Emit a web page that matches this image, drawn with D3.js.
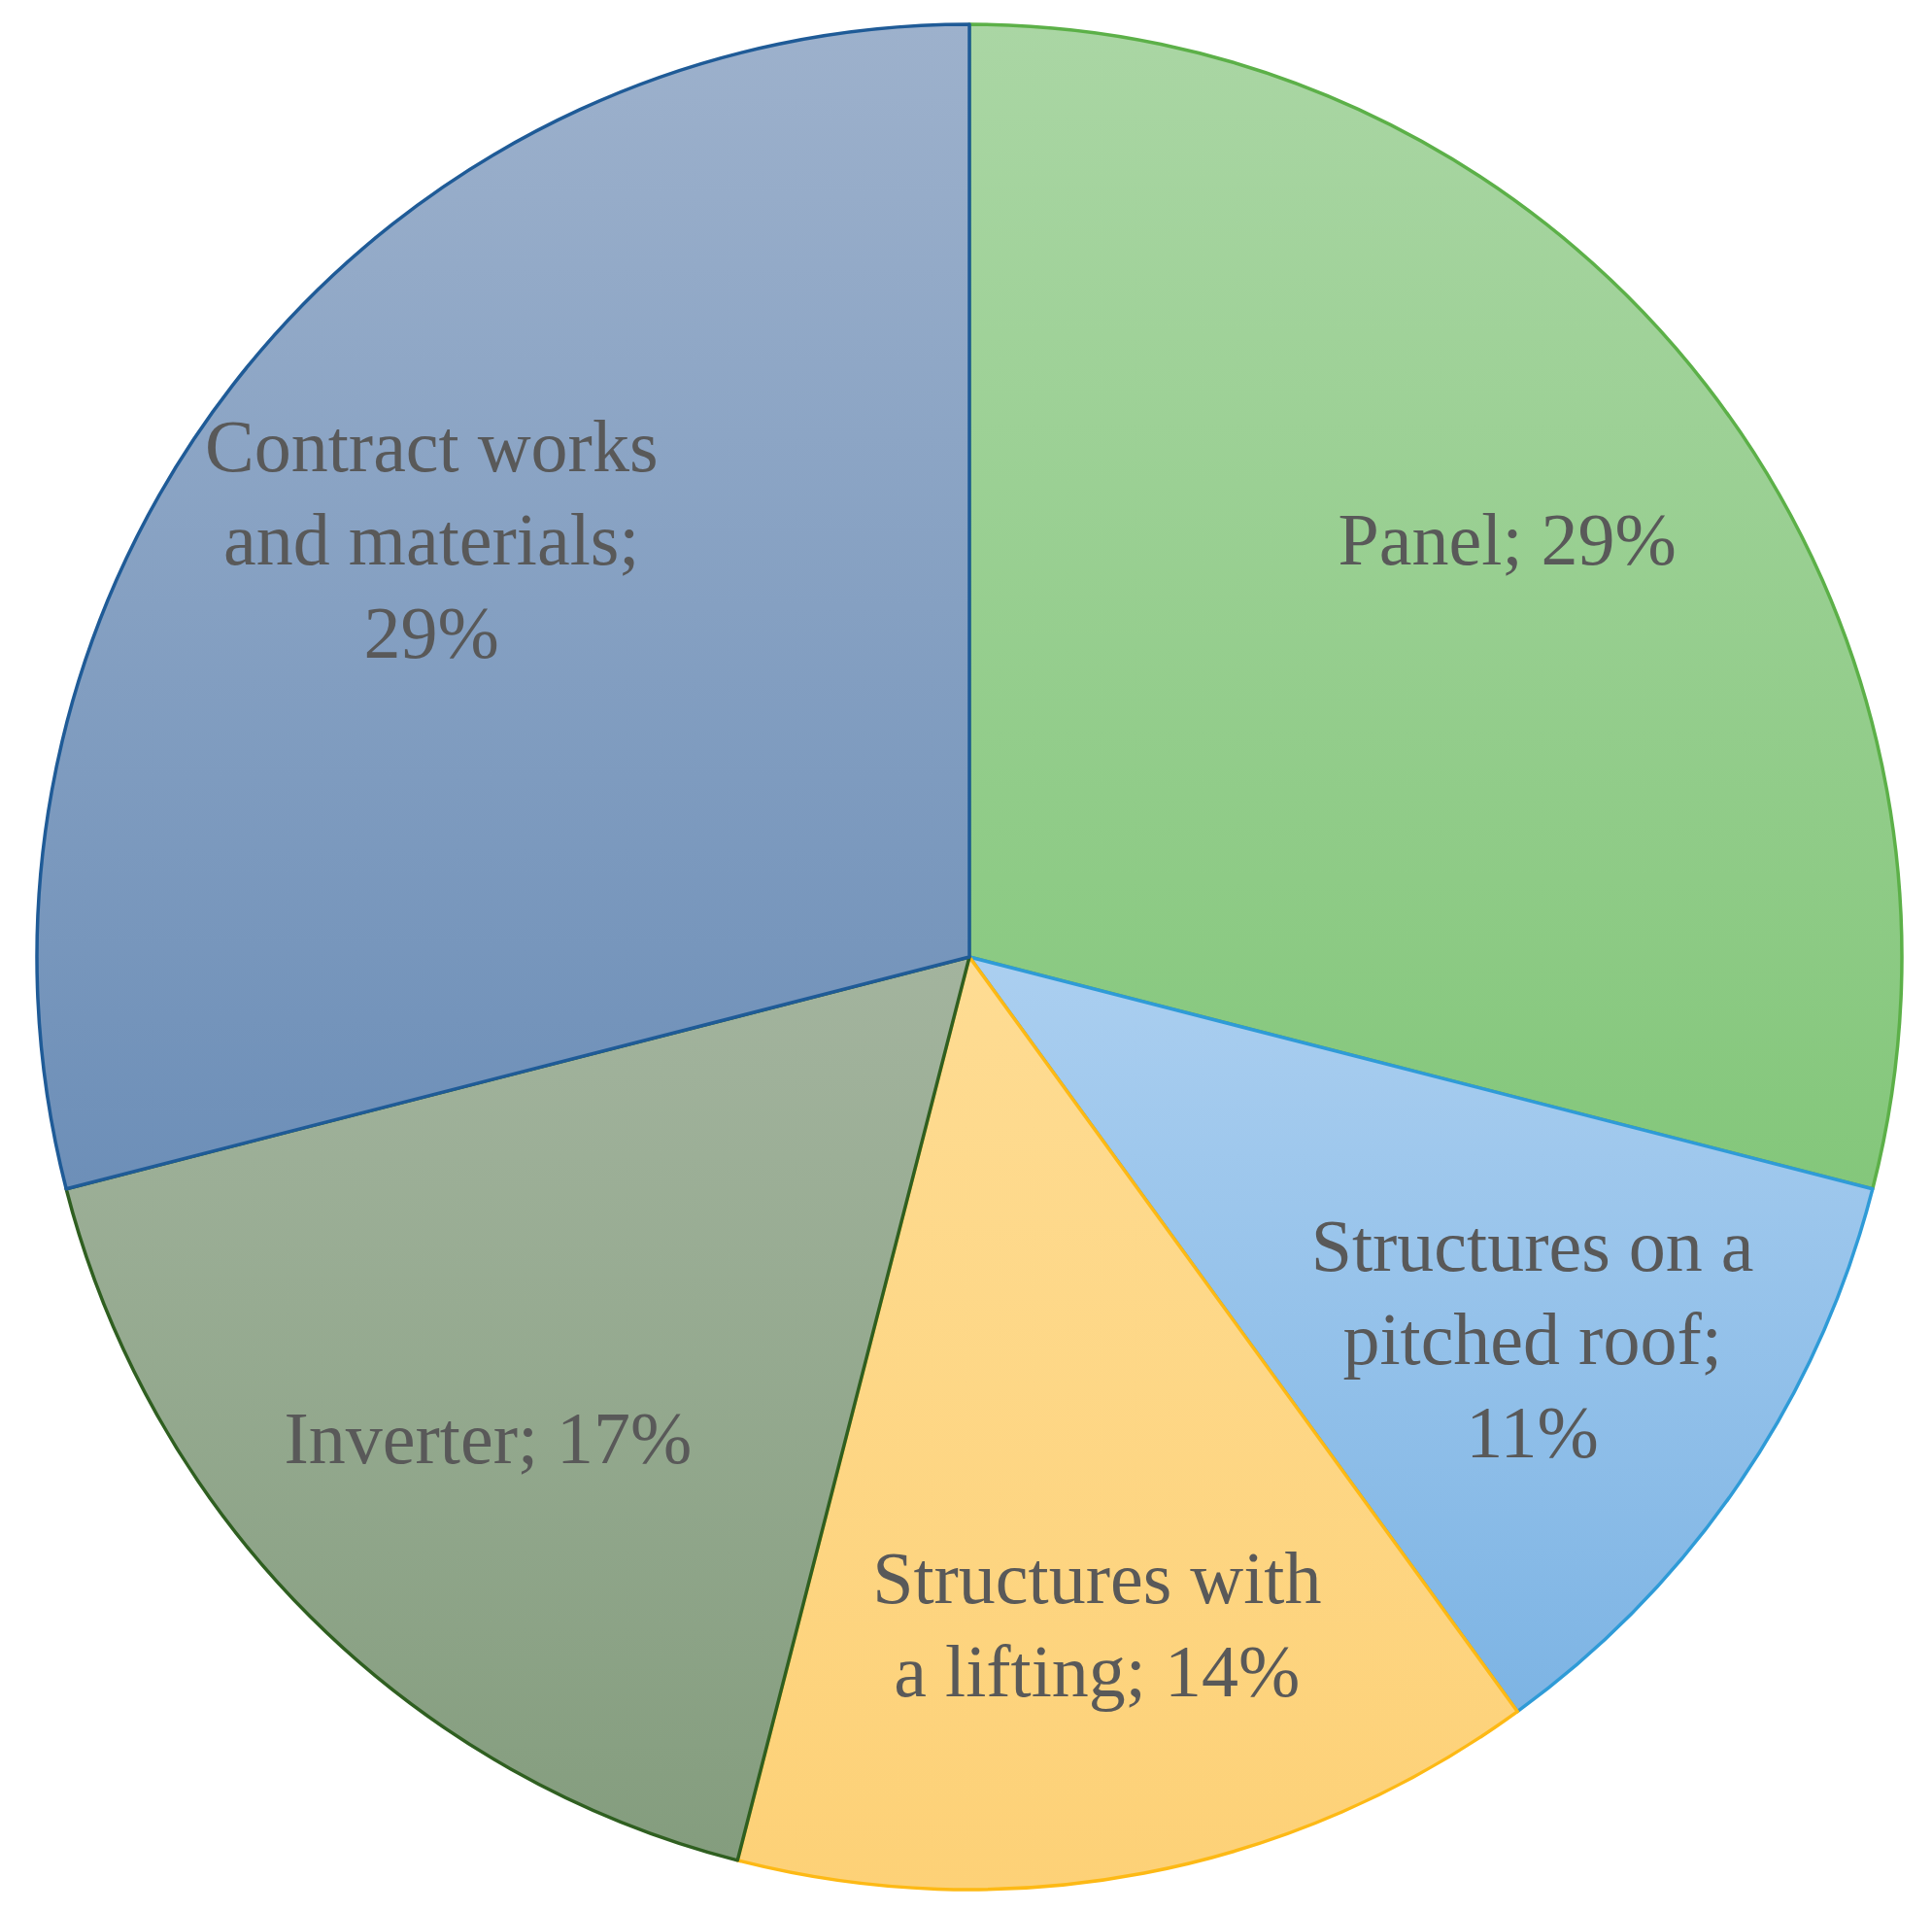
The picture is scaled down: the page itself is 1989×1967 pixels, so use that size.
<!DOCTYPE html>
<html>
<head>
<meta charset="utf-8">
<script src="https://cdn.jsdelivr.net/npm/d3@7"></script>
<style>
  body { margin: 0; background: #fff; }
  text { font-family: "Liberation Serif", "Times New Roman", serif; fill: #595959; }
</style>
</head>
<body>
<div id="chart"></div>
<script>
const categories = ['Panel', 'Structures on a pitched roof', 'Structures with a lifting', 'Inverter', 'Contract works and materials'];
const values = [29, 11, 14, 17, 29];
const labelLines = [
    ['Panel; 29%'],
    ['Structures on a', 'pitched roof;', '11%'],
    ['Structures with', 'a lifting; 14%'],
    ['Inverter; 17%'],
    ['Contract works', 'and materials;', '29%']
];
const fillTop = ['#aad6a4', '#abcff0', '#fedc93', '#a3b49e', '#9db1cc'];
const fillBottom = ['#84c77b', '#7db4e4', '#fdd177', '#849d7e', '#6d8fb8'];
const strokes = ['#5cb048', '#2f9bd7', '#fdb915', '#2f5f20', '#1f5b97'];

const width = 1989;
const height = 1967;
const cx = 998;
const cy = 985;
const radius = 960;
const fontSize = 76;
const lineHeight = 96;

const data = categories.map((c, i) => ({category: c, value: values[i], index: i}));

const svg = d3.select('#chart').append('svg')
    .attr('width', width)
    .attr('height', height);

const defs = svg.append('defs');
data.forEach(d => {
    const g = defs.append('linearGradient')
        .attr('id', `grad-${d.index}`)
        .attr('x1', 0).attr('y1', 0).attr('x2', 0).attr('y2', 1);
    g.append('stop').attr('offset', '0%').attr('stop-color', fillTop[d.index]);
    g.append('stop').attr('offset', '100%').attr('stop-color', fillBottom[d.index]);
});

const pie = d3.pie().sort(null).value(d => d.value);
const arc = d3.arc().innerRadius(0).outerRadius(radius);
const labelArc = d3.arc().innerRadius(radius * 0.73).outerRadius(radius * 0.73);

const g = svg.append('g').attr('transform', `translate(${cx},${cy})`);
const arcs = pie(data);

g.selectAll('.slice')
    .data(arcs)
  .enter()
  .append('path')
    .classed('slice', true)
    .attr('d', arc)
    .attr('fill', d => `url(#grad-${d.data.index})`)
    .attr('stroke', d => strokes[d.data.index])
    .attr('stroke-width', 3.5)
    .attr('stroke-linejoin', 'round');

const labels = g.selectAll('.label')
    .data(arcs)
  .enter()
  .append('text')
    .classed('label', true)
    .attr('text-anchor', 'middle')
    .attr('font-size', fontSize)
    .attr('transform', d => `translate(${labelArc.centroid(d)})`);

labels.each(function(d) {
    const lines = labelLines[d.data.index];
    const start = -(lines.length - 1) / 2 * lineHeight + fontSize * 0.33;
    d3.select(this).selectAll('tspan')
        .data(lines)
      .enter()
      .append('tspan')
        .attr('x', 0)
        .attr('y', (l, i) => start + i * lineHeight)
        .text(l => l);
});
</script>
</body>
</html>
